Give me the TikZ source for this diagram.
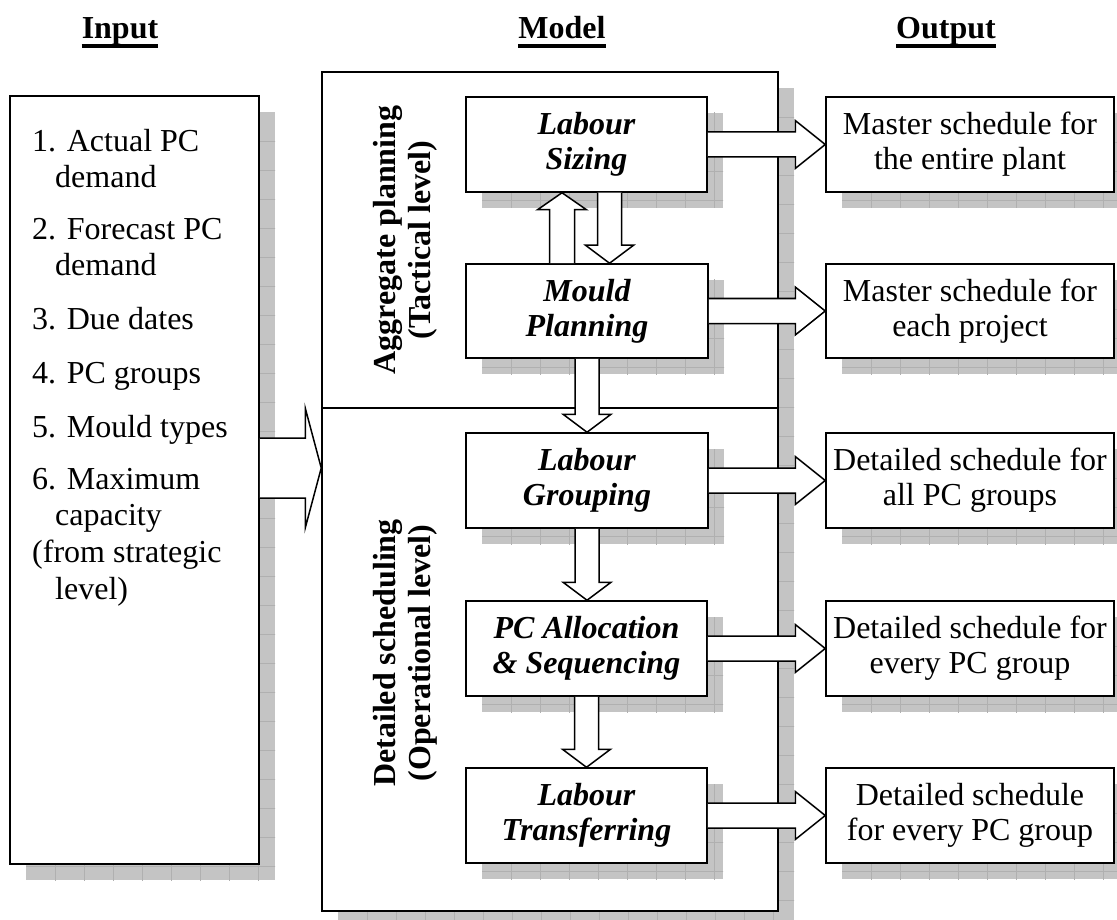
\documentclass[tikz,border=0pt]{standalone}
\usepackage{fontspec}
\setmainfont{Liberation Serif}
\usetikzlibrary{calc}
\definecolor{shadowfill}{RGB}{196,196,196}
\definecolor{gridline}{RGB}{176,176,176}

\tikzset{
  boxline/.style={draw=black, line width=1.5pt, fill=white},
  plainbox/.style={boxline, inner sep=0pt, align=center, font=\fontsize{32}{35}\selectfont},
  taskbox/.style={boxline, inner sep=0pt, align=center, font=\fontsize{32}{35}\selectfont\bfseries\itshape},
  emptybox/.style={boxline, inner sep=0pt},
  listline/.style={anchor=base west, inner sep=0pt, font=\fontsize{32}{36}\selectfont},
  heading/.style={anchor=base, inner sep=0pt, font=\fontsize{32}{36}\selectfont\bfseries},
  levellabel/.style={rotate=90, align=center, inner sep=0pt, font=\fontsize{32}{35}\selectfont\bfseries},
  blockarrow/.style={draw=black, fill=white, line width=1.5pt, line join=miter},
  fat right/.style n args={3}{to path={let \p1=(\tikztostart), \p2=(\tikztotarget) in
    (\x1,\y1+#1) -- (\x2-#3,\y1+#1) -- (\x2-#3,\y1+#2) -- (\x2,\y1)
    -- (\x2-#3,\y1-#2) -- (\x2-#3,\y1-#1) -- (\x1,\y1-#1)}},
  fat down/.style n args={3}{to path={let \p1=(\tikztostart), \p2=(\tikztotarget) in
    (\x1-#1,\y1) -- (\x1-#1,\y2+#3) -- (\x1-#2,\y2+#3) -- (\x1,\y2)
    -- (\x1+#2,\y2+#3) -- (\x1+#1,\y2+#3) -- (\x1+#1,\y1)}},
  fat up/.style n args={3}{to path={let \p1=(\tikztostart), \p2=(\tikztotarget) in
    (\x1-#1,\y1) -- (\x1-#1,\y2-#3) -- (\x1-#2,\y2-#3) -- (\x1,\y2)
    -- (\x1+#2,\y2-#3) -- (\x1+#1,\y2-#3) -- (\x1+#1,\y1)}},
}

% A box with a grey, lightly ruled drop shadow:
% #1 name, #2 style, #3 left, #4 top, #5 right, #6 bottom, #7 text
\newcommand\castbox[7]{%
  \begin{scope}
    \clip (#3+16,#4+16) rectangle (#5+16,#6+16);
    \fill[shadowfill] (#3+16,#4+16) rectangle (#5+16,#6+16);
    \foreach \k in {1,...,40}{
      \draw[gridline, line width=0.8pt] (#3+16+29*\k,#4) -- (#3+16+29*\k,#6+20);
      \draw[gridline, line width=0.8pt] (#3,#4+16+29*\k) -- (#5+20,#4+16+29*\k);
    }
  \end{scope}
  \node[#2, minimum width=#5-#3, minimum height=#6-#4] (#1) at ({(#3+#5)/2},{(#4+#6)/2}) {#7};
}

\begin{document}
\begin{tikzpicture}[x=1pt, y=-1pt]
\clip (0,0) rectangle (1117,920);
\useasboundingbox (0,0) rectangle (1117,920);

% column headings
\node[heading] (hin)  at (120,39) {Input};
\node[heading] (hmod) at (562,39) {Model};
\node[heading] (hout) at (946,39) {Output};
\foreach \h in {hin,hmod,hout}
  \draw[line width=3.5pt] ([yshift=-7pt]\h.base west) -- ([yshift=-7pt]\h.base east);

% outer frames
\castbox{inp}{emptybox}{10}{96}{259}{864}{}
\castbox{model}{emptybox}{322}{72}{778}{911}{}
\coordinate (divy) at (0,408);
\draw[line width=1.5pt] (model.west |- divy) -- (model.east |- divy);

% outputs
\castbox{o1}{plainbox}{826}{97}{1114}{192}{Master schedule for\\the entire plant}
\castbox{o2}{plainbox}{826}{264}{1114}{358}{Master schedule for\\each project}
\castbox{o3}{plainbox}{826}{433}{1114}{528}{Detailed schedule for\\all PC groups}
\castbox{o4}{plainbox}{826}{601}{1114}{696}{Detailed schedule for\\every PC group}
\castbox{o5}{plainbox}{826}{768}{1114}{863}{Detailed schedule\\for every PC group}

% model steps
\castbox{ls}{taskbox}{466}{97}{707}{192}{Labour\\Sizing}
\castbox{mp}{taskbox}{466}{264}{708}{358}{Mould\\Planning}
\castbox{lg}{taskbox}{466}{433}{708}{528}{Labour\\Grouping}
\castbox{pc}{taskbox}{466}{601}{707}{696}{PC Allocation\\\& Sequencing}
\castbox{lt}{taskbox}{466}{768}{707}{863}{Labour\\Transferring}

% level labels
\node[levellabel] (agg) at (405,240) {Aggregate planning\\(Tactical level)};
\node[levellabel] (det) at (405,653) {Detailed scheduling\\(Operational level)};

% input list
\node[listline] (i1a) at (32,152) {1. Actual PC};
\node[listline] (i1b) at (55,188) {demand};
\node[listline] (i2a) at (32,240) {2. Forecast PC};
\node[listline] (i2b) at (55,276) {demand};
\node[listline] (i3)  at (32,330) {3. Due dates};
\node[listline] (i4)  at (32,383) {4. PC groups};
\node[listline] (i5)  at (32,437) {5. Mould types};
\node[listline] (i6a) at (32,489) {6. Maximum};
\node[listline] (i6b) at (55,525) {capacity};
\node[listline] (i6c) at (32,562) {(from strategic};
\node[listline] (i6d) at (55,599) {level)};

% block arrows
\draw[blockarrow, fat right={30pt}{60pt}{16pt}] ([yshift=12pt]inp.east) to (model.west);
\draw[blockarrow, fat up={12.5pt}{24.5pt}{17pt}] ([xshift=-25pt]mp.north) to ([xshift=-25pt]ls.south);
\draw[blockarrow, fat down={12pt}{24pt}{18pt}] ([xshift=23pt]ls.south) to ([xshift=23pt]mp.north);
\draw[blockarrow, fat down={12pt}{24pt}{18pt}] (mp.south) to (lg.north);
\draw[blockarrow, fat down={12pt}{24pt}{18pt}] (lg.south) to (pc.north);
\draw[blockarrow, fat down={12pt}{24pt}{18pt}] (pc.south) to (lt.north);
\foreach \a/\b in {ls/o1, mp/o2, lg/o3, pc/o4, lt/o5}
  \draw[blockarrow, fat right={12.5pt}{24pt}{30pt}] (\a.east) to (\b.west);
\end{tikzpicture}
\end{document}
